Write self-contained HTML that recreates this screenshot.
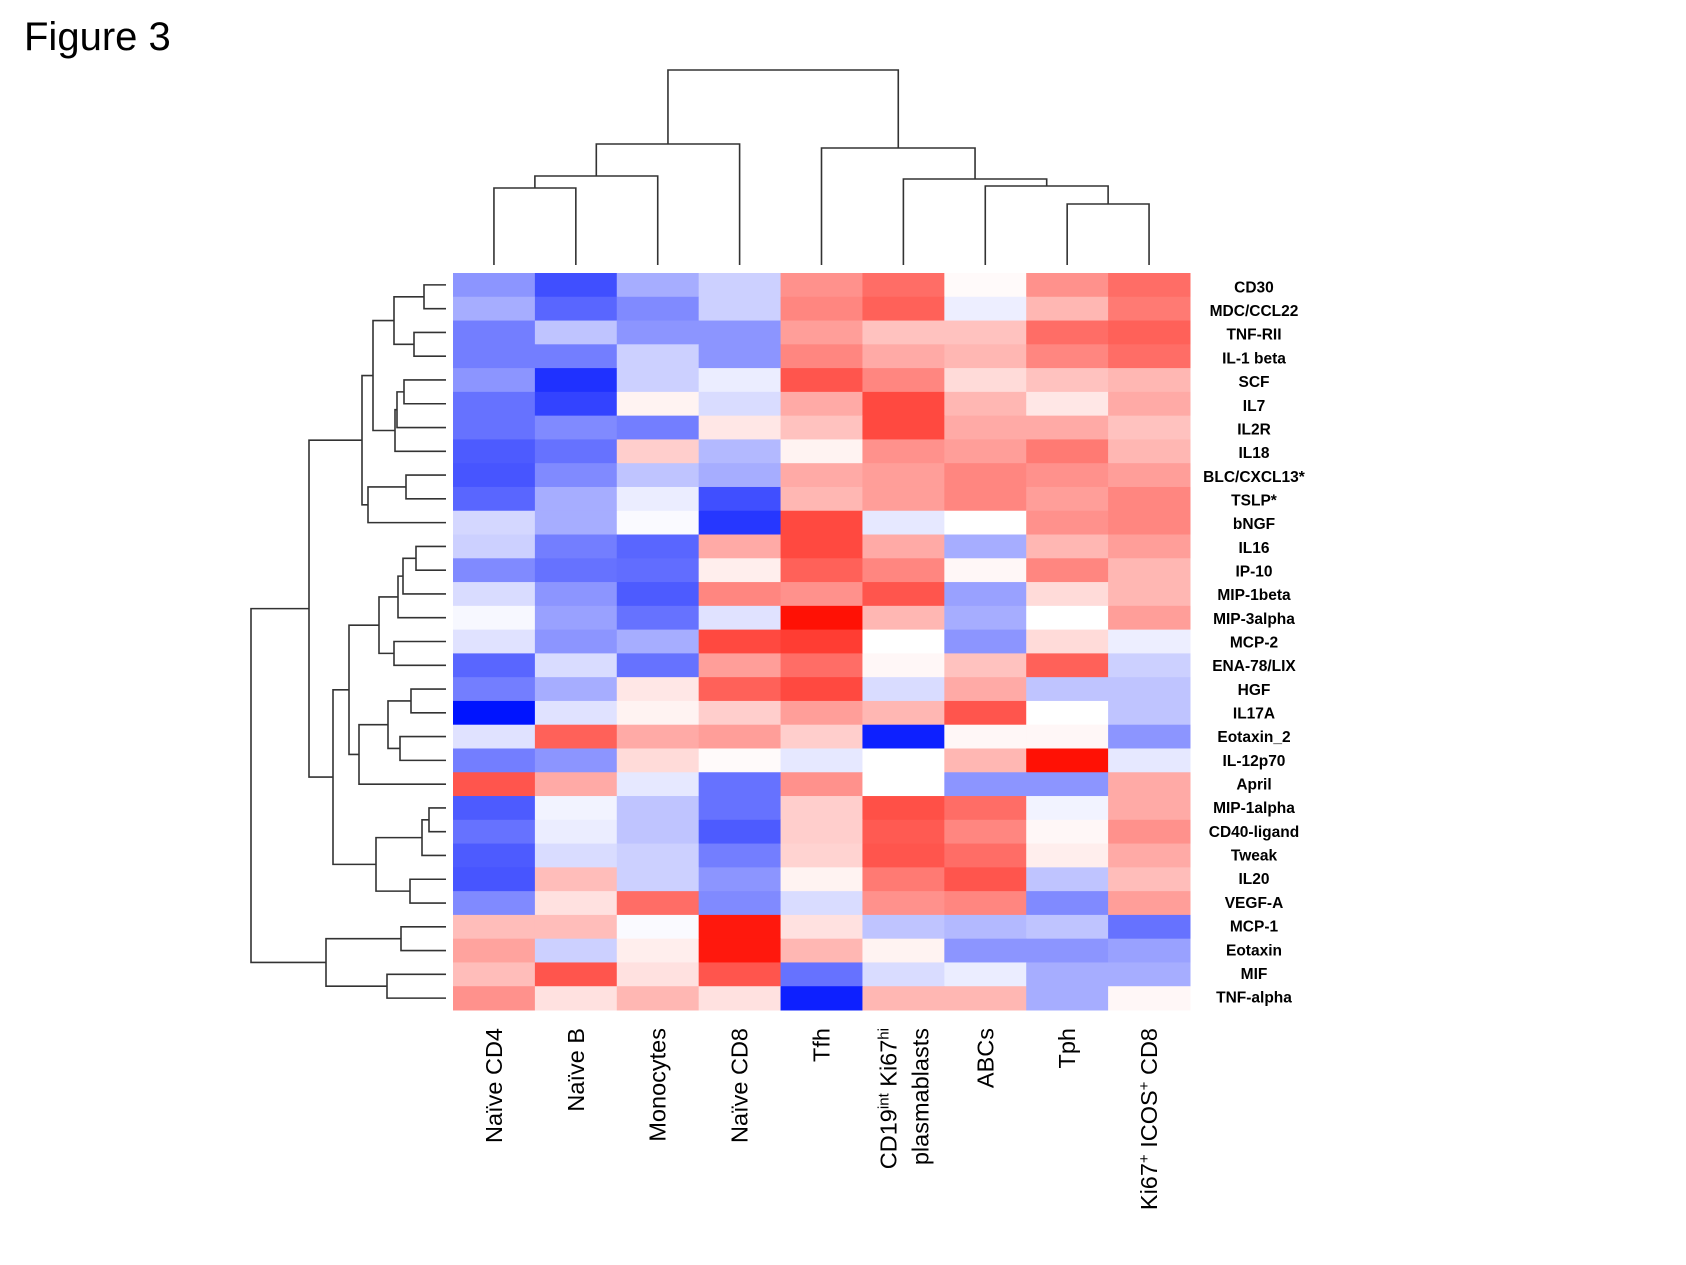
<!DOCTYPE html>
<html><head><meta charset="utf-8"><style>
html,body{margin:0;padding:0;background:#fff}
svg{display:block}
text{font-family:"Liberation Sans",Arial,sans-serif}
</style></head><body>
<svg id="fig" width="1686" height="1265" viewBox="0 0 1686 1265" xmlns="http://www.w3.org/2000/svg">
<text x="24" y="50" font-size="40">Figure 3</text>
<g id="cells"></g>
<g id="rowdend" fill="none" stroke="#333" stroke-width="1.6"></g>
<g id="coldend" fill="none" stroke="#333" stroke-width="1.6"></g>
<g id="rowlabels"></g>
<g id="collabels"></g>
</svg>
<script>
const columns = ["Naïve CD4","Naïve B","Monocytes","Naïve CD8","Tfh","CD19int Ki67hi plasmablasts","ABCs","Tph","Ki67+ ICOS+ CD8"];
const rows = ["CD30","MDC/CCL22","TNF-RII","IL-1 beta","SCF","IL7","IL2R","IL18","BLC/CXCL13*","TSLP*","bNGF","IL16","IP-10","MIP-1beta","MIP-3alpha","MCP-2","ENA-78/LIX","HGF","IL17A","Eotaxin_2","IL-12p70","April","MIP-1alpha","CD40-ligand","Tweak","IL20","VEGF-A","MCP-1","Eotaxin","MIF","TNF-alpha"];
const values = [
[-0.45,-0.75,-0.35,-0.2,0.45,0.6,0.02,0.45,0.6],
[-0.35,-0.65,-0.5,-0.2,0.5,0.65,-0.07,0.3,0.55],
[-0.55,-0.25,-0.45,-0.45,0.4,0.25,0.25,0.6,0.65],
[-0.55,-0.55,-0.2,-0.45,0.5,0.35,0.3,0.5,0.6],
[-0.45,-0.88,-0.2,-0.08,0.7,0.5,0.15,0.25,0.3],
[-0.6,-0.8,0.05,-0.15,0.35,0.75,0.3,0.1,0.35],
[-0.6,-0.5,-0.55,0.1,0.25,0.75,0.35,0.35,0.25],
[-0.7,-0.6,0.2,-0.3,0.05,0.45,0.4,0.55,0.3],
[-0.72,-0.5,-0.25,-0.35,0.35,0.4,0.5,0.45,0.4],
[-0.65,-0.35,-0.08,-0.75,0.3,0.4,0.5,0.4,0.5],
[-0.17,-0.35,-0.02,-0.85,0.75,-0.1,0,0.45,0.5],
[-0.2,-0.55,-0.65,0.35,0.75,0.35,-0.35,0.3,0.4],
[-0.5,-0.6,-0.62,0.07,0.65,0.5,0.03,0.5,0.3],
[-0.15,-0.45,-0.7,0.5,0.45,0.7,-0.4,0.15,0.3],
[-0.03,-0.4,-0.6,-0.12,0.98,0.3,-0.35,0,0.4],
[-0.12,-0.45,-0.35,0.75,0.8,0,-0.45,0.15,-0.07],
[-0.65,-0.15,-0.6,0.4,0.6,0.03,0.25,0.65,-0.2],
[-0.55,-0.35,0.1,0.65,0.75,-0.15,0.35,-0.25,-0.25],
[-1.0,-0.12,0.05,0.2,0.4,0.3,0.7,0,-0.25],
[-0.12,0.65,0.35,0.4,0.2,-0.95,0.03,0.03,-0.45],
[-0.55,-0.45,0.15,0.02,-0.1,0,0.3,0.98,-0.1],
[0.7,0.35,-0.1,-0.6,0.45,0,-0.45,-0.45,0.35],
[-0.7,-0.05,-0.25,-0.6,0.2,0.72,0.6,-0.05,0.35],
[-0.6,-0.08,-0.25,-0.7,0.2,0.68,0.5,0.03,0.45],
[-0.7,-0.15,-0.2,-0.55,0.18,0.7,0.6,0.07,0.35],
[-0.72,0.27,-0.2,-0.45,0.05,0.55,0.7,-0.25,0.27],
[-0.5,0.12,0.6,-0.5,-0.15,0.45,0.5,-0.5,0.4],
[0.27,0.27,-0.02,0.95,0.12,-0.25,-0.3,-0.25,-0.6],
[0.38,-0.2,0.07,0.95,0.3,0.05,-0.45,-0.45,-0.4],
[0.27,0.7,0.12,0.7,-0.6,-0.15,-0.08,-0.35,-0.35],
[0.45,0.12,0.3,0.12,-0.95,0.3,0.3,-0.35,0.03]
];
const rA = [[0,1,22],[2,3,32],52];
const rS = [[[4,5,42],6,49],7,51];
const rB = [rA, rS, 73];
const rN = [[8,9,40],10,78];
const rC = [rB, rN, 84];
const rD = [[[[11,12,30],13,43],14,48],[15,16,52],67];
const rE1 = [[[17,18,35],[19,20,46],58],21,87];
const rE = [rD, rE1, 97];
const rM = [[[22,23,17],24,24],[25,26,36],70];
const rF = [rE, rM, 113];
const rG = [rC, rF, 137];
const rH = [[27,28,45],[29,30,59],120];
const rowTree = [rG, rH, 195];
const colTree = [[[[0,1,77],2,89],3,121],[4,[5,[6,[7,8,61],79],86],117],195];

const X0=453, Y0=273, CW=(1190-453)/9, RH=(1010-273)/31, LEAF_R=446, LEAF_C=265;
const xCol=i=>X0+i*CW, yRow=i=>Y0+i*RH;
function color(v){
  const t=Math.min(1,Math.abs(v));
  const c=Math.round(255*(1-t));
  if(v>=0){return `rgb(255,${Math.min(255,Math.round(c+t*12))},${c})`;}
  return `rgb(${c},${Math.min(255,Math.round(c+t*20))},255)`;
}
const NS="http://www.w3.org/2000/svg";
const mk=(tag,attrs,parent)=>{const e=document.createElementNS(NS,tag);for(const k in attrs)e.setAttribute(k,attrs[k]);parent.appendChild(e);return e;};
const cells=document.getElementById('cells');
values.forEach((row,r)=>row.forEach((v,c)=>{
  const e=mk('rect',{x:xCol(c),y:yRow(r),width:CW+0.5,height:RH+0.5,fill:color(v)},cells);
  
  
}));
const rl=document.getElementById('rowlabels');
rows.forEach((name,r)=>{
  const t=mk('text',{x:1254,y:yRow(r)+RH/2+7.5-r*0.1,'text-anchor':'middle','font-size':15.5,'font-weight':'bold'},rl);
  t.textContent=name;
  
  
});
const cl=document.getElementById('collabels');
columns.forEach((name,c)=>{
  const cx=xCol(c)+CW/2;
  const g=mk('g',{},cl);
  
  
  if(c===5){
    const t1=mk('text',{transform:`translate(${cx-7},1028) rotate(-90)`,'text-anchor':'end','font-size':23.5},g);
    t1.innerHTML='CD19<tspan font-size="15" dy="-8">int</tspan><tspan dy="8"> Ki67</tspan><tspan font-size="15" dy="-8">hi</tspan>';
    const t2=mk('text',{transform:`translate(${cx+25},1028) rotate(-90)`,'text-anchor':'end','font-size':23.5},g);
    t2.textContent='plasmablasts';
  } else if(c===8){
    const t=mk('text',{transform:`translate(${cx+8},1028) rotate(-90)`,'text-anchor':'end','font-size':23.5},g);
    t.innerHTML='Ki67<tspan font-size="15" dy="-8">+</tspan><tspan dy="8"> ICOS</tspan><tspan font-size="15" dy="-8">+</tspan><tspan dy="8"> CD8</tspan>';
  } else {
    const t=mk('text',{transform:`translate(${cx+8},1028) rotate(-90)`,'text-anchor':'end','font-size':23.5},g);
    t.textContent=name;
  }
});
function drawTree(node,parent,orient){
  if(typeof node==='number'){
    const pos = orient==='row'? yRow(node)+RH/2 : xCol(node)+CW/2;
    return {pos,d:0};
  }
  const a=drawTree(node[0],parent,orient), b=drawTree(node[1],parent,orient), d=node[2];
  let p;
  if(orient==='row'){
    const xa=LEAF_R-a.d, xb=LEAF_R-b.d, xm=LEAF_R-d;
    p=`M${xa},${a.pos}H${xm}V${b.pos}H${xb}`;
  } else {
    const ya=LEAF_C-a.d, yb=LEAF_C-b.d, ym=LEAF_C-d;
    p=`M${a.pos},${ya}V${ym}H${b.pos}V${yb}`;
  }
  const e=mk('path',{d:p},parent);
  
  
  return {pos:(a.pos+b.pos)/2,d};
}
drawTree(rowTree,document.getElementById('rowdend'),'row');
drawTree(colTree,document.getElementById('coldend'),'col');
</script>
</body></html>
